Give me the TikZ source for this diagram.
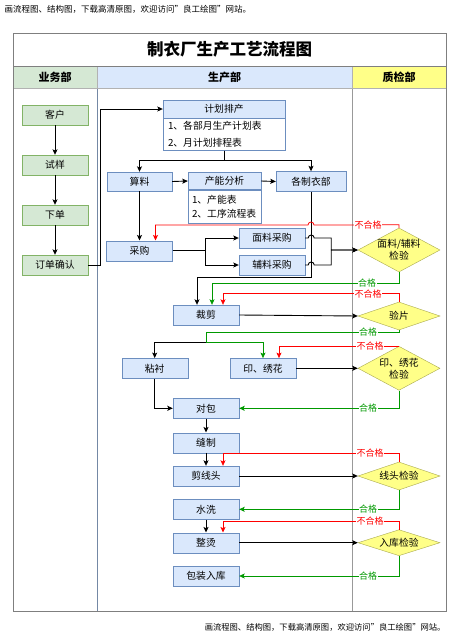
\documentclass[tikz,border=0pt]{standalone}
\usepackage{fontspec}
\setmainfont{Noto Sans CJK SC}
\usetikzlibrary{arrows.meta,shapes.geometric}

\definecolor{boxfill}{HTML}{DAE8FC}
\definecolor{boxline}{HTML}{6C8EBF}
\definecolor{ywfill}{HTML}{D5E8D4}
\definecolor{ywline}{HTML}{82B366}
\definecolor{chkfill}{HTML}{FFFF88}
\definecolor{chkline}{HTML}{A8A84E}
\definecolor{badred}{HTML}{FF0000}
\definecolor{goodgreen}{HTML}{009900}
\definecolor{frame}{HTML}{7F7F7F}

\begin{document}
\begin{tikzpicture}[x=1pt,y=-1pt,
  txt/.style={font=\fontsize{9.8}{12}\selectfont},
  box/.style={txt, draw=boxline, fill=boxfill, minimum width=66pt, minimum height=20pt, inner sep=0pt},
  ywbox/.style={box, draw=ywline, fill=ywfill},
  planhead/.style={box, minimum height=18pt},
  planbody/.style={draw=boxline, fill=white, align=left, inner xsep=5pt, inner ysep=0pt, anchor=north},
  check/.style={diamond, draw=chkline, fill=chkfill, minimum width=82pt, inner sep=0pt},
  chktxt/.style={txt, align=center},
  lanehead/.style={draw=frame!60, minimum height=22pt, inner sep=0pt, font=\fontsize{11}{13}\bfseries\selectfont},
  flow/.style={draw=black, line width=0.9pt, -{Stealth[length=5.5pt,width=5pt,inset=1.2pt]}},
  bad/.style={flow, draw=badred, line width=0.8pt},
  good/.style={flow, draw=goodgreen, line width=0.8pt},
  badlbl/.style={fill=white, text=badred, inner sep=0.5pt, font=\fontsize{9}{10}\selectfont},
  goodlbl/.style={badlbl, text=goodgreen},
]
\useasboundingbox (0,0) rectangle (457,640);

\def\xl{13}
\def\xa{97}
\def\xb{352}
\def\xr{446}
\def\yt{33}
\def\yh{66}
\def\yc{88}
\def\yb{611}

\node[anchor=west, font=\fontsize{8.5}{10}\selectfont] (topnote) at (1,9) {画流程图、结构图，下载高清原图，欢迎访问"良工绘图"网站。};

% frame and lanes
\fill[white] (\xl,\yt) rectangle (\xr,\yb);
\draw[draw=ywline!60!frame] (\xl,\yc) rectangle (\xa,\yb);
\draw[draw=boxline!60!frame] (\xa,\yc) rectangle (\xb,\yb);
\draw[draw=frame!80] (\xb,\yc) rectangle (\xr,\yb);
\node[lanehead, fill=ywfill, minimum width=84pt] (ywb) at (55,77) {业务部};
\node[lanehead, fill=boxfill, minimum width=255pt] (scb) at (224.5,77) {生产部};
\node[lanehead, fill=chkfill, minimum width=94pt] (zjb) at (399,77) {质检部};
\draw[draw=frame, line width=0.8pt] (\xl,\yt) rectangle (\xr,\yb);
\draw[draw=frame, line width=0.8pt] (\xl,\yh) -- (\xr,\yh);
\node[font=\fontsize{16.5}{18}\bfseries\selectfont] (title) at (229.5,49.5) {制衣厂生产工艺流程图};

% 业务部
\node[ywbox] (kh) at (55,115) {客户};
\node[ywbox] (sy) at (55,165) {试样};
\node[ywbox] (xd) at (55,215) {下单};
\node[ywbox] (qr) at (55,265) {订单确认};

% 生产部
\node[planhead, minimum width=122pt] (jh) at (224,109) {计划排产};
\node[planbody, text width=112pt, minimum height=32pt, font=\fontsize{9.8}{16.5}\selectfont] (jhb) at (jh.south) {1、各部月生产计划表\\2、月计划排程表};
\node[box, minimum width=65pt, minimum height=19pt] (sl) at (139.5,181.5) {算料};
\node[planhead, minimum width=73pt, minimum height=17pt] (cn) at (224.5,181) {产能分析};
\node[planbody, text width=65pt, inner xsep=4pt, minimum height=33.5pt, font=\fontsize{9.8}{14.7}\selectfont] (cnb) at (cn.south) {1、产能表\\2、工序流程表};
\node[box, minimum width=70pt] (gz) at (311,181.5) {各制衣部};
\node[box] (cg) at (139.5,250.7) {采购};
\node[box] (ml) at (272,238) {面料采购};
\node[box] (fl) at (272,265) {辅料采购};
\node[box] (cj) at (206,315) {裁剪};
\node[box] (nc) at (154.7,368.3) {粘衬};
\node[box] (yx) at (263,368.3) {印、绣花};
\node[box] (db) at (206,408.3) {对包};
\node[box] (fz) at (206,442.7) {缝制};
\node[box] (jx) at (206,476) {剪线头};
\node[box] (sx) at (206,509.3) {水洗};
\node[box] (zt) at (206,542.7) {整烫};
\node[box] (bz) at (206,576) {包装入库};

% 质检部
\node[check, minimum height=44pt, label={[chktxt]center:面料/辅料\\检验}] (jy1) at (399,250) {};
\node[check, minimum height=28pt, label={[chktxt]center:验片}] (yp) at (399,316) {};
\node[check, minimum height=44pt, label={[chktxt]center:印、绣花\\检验}] (jy2) at (399,368.3) {};
\node[check, minimum height=28pt, label={[chktxt]center:线头检验}] (xt) at (399,476) {};
\node[check, minimum height=26pt, label={[chktxt]center:入库检验}] (rk) at (399,542.7) {};

% 流程
\draw[flow] (kh.south) -- (sy.north);
\draw[flow] (sy.south) -- (xd.north);
\draw[flow] (xd.south) -- (qr.north);
\draw[flow] (qr.east) -- ++(12,0) |- (jh.west);
\draw[flow] (jhb.south) -- ++(0,10) -| (sl.north);
\draw[flow] (jhb.south) -- ++(0,10) -| (gz.north);
\draw[flow] (sl.east) -- (cn.west);
\draw[flow] (cn.east) -- (gz.west);
\draw[flow] (sl.south) -- (cg.north);
\draw[flow] (cg.east) -- ++(33,0) |- (ml.west);
\draw[flow] (cg.east) -- ++(33,0) |- (fl.west);
\draw[flow] (gz.south) -- ++(0,86) -| ([xshift=-9pt]cj.north);
\draw[flow] (ml.east) -- ++(3,0) arc[start angle=180, end angle=0, radius=3pt] -- ++(17,0) |- (jy1.west);
\draw[flow] (fl.east) -- ++(3,0) arc[start angle=180, end angle=0, radius=3pt] -- ++(17,0) |- (jy1.west);
\draw[bad] (jy1.north) -- ++(0,-3) -- (314,225) arc[start angle=0, end angle=180, radius=3pt] -| ([xshift=16pt]cg.north);
\draw[good] (jy1.south) -- ++(0,11) -| ([xshift=6pt]cj.north);

\draw[flow] (cj.east) -- (yp.west);
\draw[bad] (yp.north) -- ++(0,-8) -| ([xshift=17pt]cj.north);
\coordinate (fj) at (206,342);
\draw[good] (yp.south) -- ++(0,2) -| (fj) -| (yx.north);
\draw[flow] (fj) -| (nc.north);

\draw[flow] (yx.east) -- (jy2.west);
\draw[bad] (jy2.north) -| ([xshift=16pt]yx.north);
\draw[good] (jy2.south) |- (db.east);
\draw[flow] (nc.south) |- (db.west);
\draw[flow] (db.south) -- (fz.north);
\draw[flow] (fz.south) -- (jx.north);

\draw[flow] (jx.east) -- (xt.west);
\draw[bad] (xt.north) -- ++(0,-8.5) -| ([xshift=17pt]jx.north);
\draw[good] (xt.south) |- (sx.east);
\draw[flow] (sx.south) -- (zt.north);

\draw[flow] (zt.east) -- (rk.west);
\draw[bad] (rk.north) -- ++(0,-8.5) -| ([xshift=17pt]zt.north);
\draw[good] (rk.south) |- (bz.east);

% 合格 / 不合格
\node[badlbl] (nb1) at (368,225) {不合格};
\node[goodlbl] (ok1) at (367,283) {合格};
\node[badlbl] (nb2) at (368,294) {不合格};
\node[goodlbl] (ok2) at (368,332) {合格};
\node[badlbl] (nb3) at (370,346.3) {不合格};
\node[goodlbl] (ok3) at (368,408.3) {合格};
\node[badlbl] (nb4) at (370,453.5) {不合格};
\node[goodlbl] (ok4) at (368,509.3) {合格};
\node[badlbl] (nb5) at (370,521.2) {不合格};
\node[goodlbl] (ok5) at (368,576) {合格};

\node[anchor=east, font=\fontsize{8.3}{10}\selectfont] (botnote) at (449,627) {画流程图、结构图，下载高清原图，欢迎访问"良工绘图"网站。};
\end{tikzpicture}
\end{document}
